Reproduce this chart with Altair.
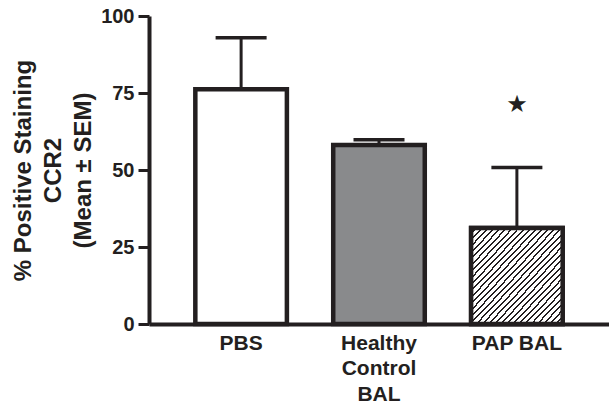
import altair as alt
import pandas as pd

# ---- data ----
groups = ["PBS", "Healthy Control BAL", "PAP BAL"]
means = [76.2, 58.1, 31.2]
sems = [16.7, 1.7, 19.6]
bar_fills = ["#ffffff", "#898a8c", "#ffffff"]
hatched_group = "PAP BAL"
star_group = ["PAP BAL"]
star_value = [71.0]
y_ticks = [0, 25, 50, 75, 100]

INK = "#231f20"
FONT = "Liberation Sans"

df = pd.DataFrame({"group": groups, "mean": means, "sem": sems})
df["upper"] = df["mean"] + df["sem"]
star_df = pd.DataFrame({"group": star_group, "y": star_value, "s": ["\u2605"] * len(star_group)})

# diagonal hatch as a hard-stop linear gradient
N_STRIPES = 30
stops = []
for i in range(N_STRIPES):
    a = i / N_STRIPES
    b = (i + 0.68) / N_STRIPES
    c = (i + 1) / N_STRIPES
    stops += [
        {"offset": a, "color": "#ffffff"},
        {"offset": b, "color": "#ffffff"},
        {"offset": b, "color": INK},
        {"offset": c, "color": INK},
    ]
hatch_fill = {"gradient": "linear", "x1": 0, "y1": 0, "x2": 1, "y2": 1, "stops": stops}

x_enc = alt.X(
    "group:N",
    sort=groups,
    scale=alt.Scale(domain=groups, paddingInner=0.336, paddingOuter=0.336),
    axis=alt.Axis(
        title=None,
        labelAngle=0,
        labelExpr="datum.label == 'Healthy Control BAL' ? ['Healthy', 'Control', 'BAL'] : datum.label",
        labelFont=FONT,
        labelFontSize=21,
        labelFontWeight="bold",
        labelColor=INK,
        labelLineHeight=25.5,
        labelPadding=8,
        ticks=False,
        domainColor=INK,
        domainWidth=4,
        labelAlign="center",
    ),
)

y_axis = alt.Axis(
    values=y_ticks,
    title=["% Positive Staining", "CCR2", "(Mean \u00b1 SEM)"],
    titleFont=FONT,
    titleFontSize=24,
    titleFontWeight="bold",
    titleColor=INK,
    titleLineHeight=30,
    titlePadding=5,
    labelFont=FONT,
    labelFontSize=20,
    labelFontWeight="bold",
    labelColor=INK,
    labelPadding=4,
    tickSize=11,
    tickWidth=3,
    tickColor=INK,
    domainColor=INK,
    domainWidth=4,
    grid=False,
)
y_scale = alt.Scale(domain=[0, 100], nice=False)

base = alt.Chart(df)

err = base.mark_rule(color=INK, strokeWidth=3).encode(
    x=x_enc,
    y=alt.Y("mean:Q", scale=y_scale, axis=y_axis),
    y2="upper:Q",
)

bars = base.mark_bar(stroke=INK, strokeWidth=4.5).encode(
    x=x_enc,
    y=alt.Y("mean:Q", scale=y_scale, axis=y_axis),
    fill=alt.Fill("group:N", scale=alt.Scale(domain=groups, range=bar_fills), legend=None),
)

hatch = (
    base.transform_filter(alt.datum.group == hatched_group)
    .mark_bar(fill=hatch_fill, stroke=INK, strokeWidth=4.5)
    .encode(x=x_enc, y=alt.Y("mean:Q", scale=y_scale, axis=y_axis))
)

caps = base.mark_tick(color=INK, thickness=3.5, size=51, opacity=1).encode(
    x=x_enc,
    y=alt.Y("upper:Q", scale=y_scale, axis=y_axis),
)

star = alt.Chart(star_df).mark_text(
    font="DejaVu Sans", fontSize=24, color=INK, baseline="middle", align="center"
).encode(
    x=x_enc,
    y=alt.Y("y:Q", scale=y_scale, axis=y_axis),
    text="s:N",
)

chart = (
    alt.layer(err, bars, hatch, caps, star)
    .properties(
        width=460,
        height=308,
        autosize=alt.AutoSizeParams(type="none"),
        padding={"left": 149, "top": 16, "right": 0, "bottom": 88},
        background="#ffffff",
    )
    .configure_view(stroke=None)
)

chart.save("out.html", embed_options={"renderer": "svg", "actions": False})
